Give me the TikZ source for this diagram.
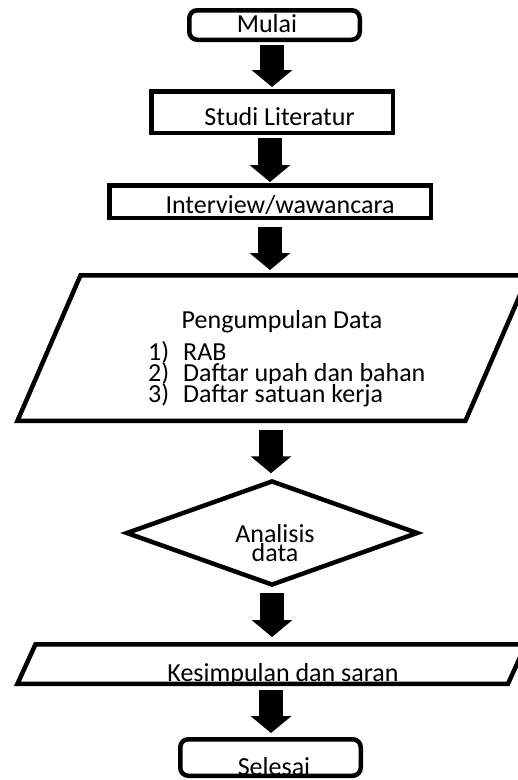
\documentclass[tikz,border=0pt]{standalone}
\usepackage{fontspec}
\setmainfont{Carlito}
\usetikzlibrary{arrows.meta,shapes.geometric}
\begin{document}
\begin{tikzpicture}[x=1pt,y=-1pt,
  every node/.style={font=\fontsize{26}{20}\selectfont, inner sep=0pt},
  box/.style={draw, line width=4.5pt},
  rbox/.style={box, rounded corners=8pt},
  shp/.style={line width=4.5pt},
  item/.style={anchor=base west, fill=white},
  blk/.style={line width=24pt, -{Triangle[width=40pt 0 1,length=17pt 0 1]}}]
\useasboundingbox (0,0) rectangle (518,780);
\clip (0,0) rectangle (518,780);

% terminals and boxes
\node[rbox, minimum width=170.5pt, minimum height=29.5pt, text height=14pt, text depth=0pt] (mulai) at (274.5,25) {Mulai\hspace*{15pt}};
\node[box, minimum width=241.5pt, minimum height=41.5pt, text height=26pt, text depth=0pt] (studi) at (272,112) {\hspace*{15pt}Studi Literatur};
\node[box, minimum width=321.5pt, minimum height=32.5pt, text height=23pt, text depth=0pt] (inter) at (270,201.5) {\hspace*{20pt}Interview/wawancara};

% data input parallelogram
\coordinate (pdN) at (271,273);
\coordinate (pdS) at (271,423);
\draw[shp] (80.5,275.25) -- (528.5,275.25) -- (465.5,420.75) -- (17.5,420.75) -- cycle;
\node[anchor=base] (pdt) at (282,328) {Pengumpulan Data};
\node[item] (n1) at (148,360) {1)};
\node[item] (i1) at (183,360) {RAB};
\node[item] (n2) at (148,381) {2)};
\node[item] (i2) at (183,381) {Daftar upah dan bahan};
\node[item] (n3) at (148,402) {3)};
\node[item] (i3) at (183,402) {Daftar satuan kerja};

% decision
\node[draw, diamond, shp, minimum width=292pt, minimum height=105pt] (dia) at (272,533) {};
\node[anchor=base] (an1) at (275,542) {Analisis};
\node[anchor=base] (an2) at (275,561) {data};

% conclusion parallelogram
\coordinate (kN) at (271,642);
\coordinate (kS) at (271,686);
\begin{scope}
\clip (35.5,644.25) -- (526,644.25) -- (508,683.75) -- (17.5,683.75) -- cycle;
\node[anchor=base] (kes) at (283,681) {Kesimpulan dan saran};
\end{scope}
\draw[shp] (35.5,644.25) -- (526,644.25) -- (508,683.75) -- (17.5,683.75) -- cycle;

\node[rbox, minimum width=180.5pt, minimum height=36.5pt, text height=35pt, text depth=0pt] (sel) at (270.5,757.5) {\hspace*{7pt}Selesai};

% block arrows
\draw[blk, shorten <=3pt, shorten >=2pt] (studi.north |- mulai.south) -- (studi.north);
\draw[blk, shorten <=3pt, shorten >=1pt] (inter.north |- studi.south) -- (inter.north);
\draw[blk, shorten <=7pt, shorten >=3pt] (inter.south) -- (inter.south |- pdN);
\draw[blk, shorten <=7pt, shorten >=5pt] (pdS) -- (pdS |- dia.north);
\draw[blk, shorten <=5pt, shorten >=5pt] (dia.south) -- (dia.south |- kN);
\draw[blk, shorten <=4pt, shorten >=4pt] (kS) -- (kS |- sel.north);
\end{tikzpicture}
\end{document}
